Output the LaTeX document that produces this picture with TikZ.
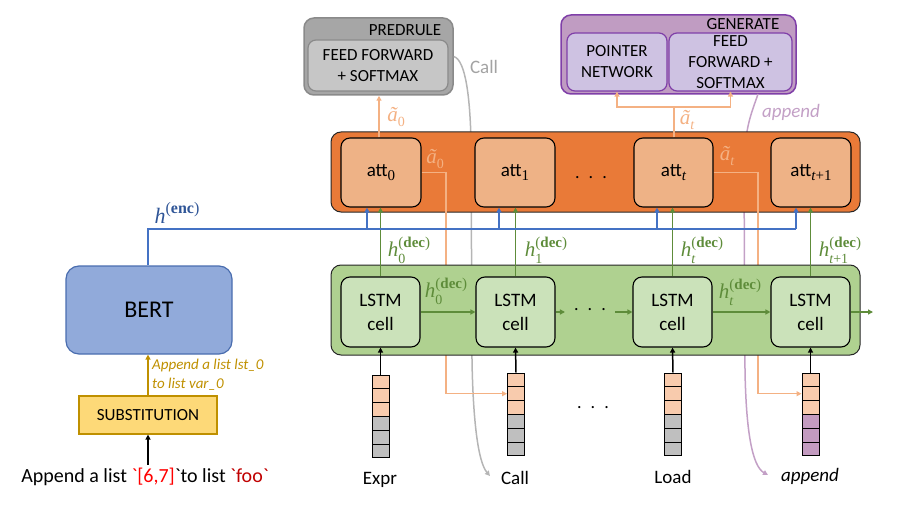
\documentclass[tikz,border=0pt]{standalone}
\usepackage{fontspec}
\setmainfont{Carlito}
\newfontfamily\mf{Liberation Serif}
\usetikzlibrary{arrows.meta,calc}
\definecolor{orangefill}{HTML}{E97A38}
\definecolor{attfill}{HTML}{EEB286}
\definecolor{peach}{HTML}{F4B183}
\definecolor{peachcell}{HTML}{F8CBAD}
\definecolor{greenfill}{HTML}{AFD190}
\definecolor{cellfill}{HTML}{CBE2BA}
\definecolor{greenline}{HTML}{5E8C3A}
\definecolor{bertfill}{HTML}{91AADA}
\definecolor{bertdraw}{HTML}{4A6DAF}
\definecolor{blueline}{HTML}{4472C4}
\definecolor{encblue}{HTML}{2F5597}
\definecolor{subfill}{HTML}{FDD978}
\definecolor{gold}{HTML}{BF9000}
\definecolor{predout}{HTML}{A6A6A6}
\definecolor{predin}{HTML}{C6C6C6}
\definecolor{preddraw}{HTML}{8A8A8A}
\definecolor{genout}{HTML}{C09CC2}
\definecolor{genin}{HTML}{CEC2E2}
\definecolor{gendraw}{HTML}{7F3FA8}
\definecolor{appcol}{HTML}{C3A0C6}
\definecolor{graycurve}{HTML}{B5B5B5}
\definecolor{graycell}{HTML}{BFBFBF}
\definecolor{purplecell}{HTML}{C39BC0}
\definecolor{darkred}{HTML}{C00000}
% h with sub- and superscript, set in text fonts
\newcommand{\hlab}[2]{{\mf\itshape h}\makebox[0pt][l]{\raisebox{-0.3em}{\fontsize{14}{14}\selectfont\mf #1}}\raisebox{0.45em}{\fontsize{15}{15}\selectfont\mf(\textbf{#2})}}
\newcommand{\atl}[1]{{\mf\itshape ã}\raisebox{-0.28em}{\fontsize{14}{14}\selectfont\mf #1}}
\newcommand{\att}[1]{att\raisebox{-0.25em}{\fontsize{15}{15}\selectfont\mf #1}}
\begin{document}
\begin{tikzpicture}[x=1pt,y=-1pt,
  tip/.style={-{Triangle[length=5pt,width=5pt]}},
  rowbox/.style={draw=black!85, line width=1pt, rounded corners=10pt, inner sep=0pt},
  attbox/.style={draw=black, line width=1.1pt, rounded corners=9pt, fill=attfill, minimum width=80pt, minimum height=69pt, inner sep=0pt, font=\fontsize{19}{20}\selectfont},
  cellbox/.style={draw=black, line width=1.1pt, rounded corners=9pt, fill=cellfill, minimum width=79pt, minimum height=70pt, inner sep=0pt, align=center, font=\fontsize{19}{24}\selectfont},
  vcell/.style={draw=black, line width=1pt, minimum width=17pt, minimum height=13.8pt, inner sep=0pt},
  boxtext/.style={font=\fontsize{17}{21}\selectfont, align=center},
  vlabel/.style={font=\fontsize{19}{22}\selectfont},
  hdec/.style={text=greenline, font=\fontsize{21}{22}\selectfont, inner sep=0pt},
  atil/.style={text=peach, font=\fontsize{21}{22}\selectfont, inner sep=0pt},
  greenarrow/.style={draw=greenline, line width=1.5pt, tip},
  bluearrow/.style={draw=blueline, line width=1.5pt, tip},
  peachline/.style={draw=peach, line width=1.5pt},
]
\path[use as bounding box] (0,0) rectangle (897,508);

% ---------- top output boxes ----------
\node[draw=preddraw, fill=predout, line width=1.5pt, rounded corners=10pt, minimum width=149pt, minimum height=77pt, inner sep=0pt] (predo) at (378.5,56.5) {};
\node[draw=preddraw, fill=predin, line width=1.2pt, rounded corners=8pt, minimum width=140pt, minimum height=51pt, inner sep=0pt, boxtext] (predi) at (378,65.5) {FEED FORWARD\\+ SOFTMAX};
\node[boxtext, inner sep=0pt] (predlbl) at (405,30.5) {PREDRULE};

\node[draw=gendraw, fill=genout, line width=1.5pt, rounded corners=10pt, minimum width=235pt, minimum height=79pt, inner sep=0pt] (geno) at (678.5,54.5) {};
\node[draw=gendraw, fill=genin, line width=1.2pt, rounded corners=8pt, minimum width=100pt, minimum height=58pt, inner sep=0pt, boxtext] (ptr) at (617,62) {POINTER\\NETWORK};
\node[draw=gendraw, fill=genin, line width=1.2pt, rounded corners=8pt, minimum width=123pt, minimum height=58pt, inner sep=0pt, boxtext] (genff) at (730.5,62) {FEED\\FORWARD +\\SOFTMAX};
\node[boxtext, inner sep=0pt] (genlbl) at (743,24.5) {GENERATE};

% ---------- token vectors ----------
\foreach \v/\x/\t/\lc in {0/380.5/375/graycell, 1/516/373/graycell, 2/673/373/graycell, 3/810.5/373/purplecell}{
  \foreach \k in {1,2,3}{
    \node[vcell, fill=peachcell] (v\v-\k) at (\x,{\t+(\k-0.5)*13.8}) {};
  }
  \foreach \k in {4,5,6}{
    \node[vcell, fill=\lc] (v\v-\k) at (\x,{\t+(\k-0.5)*13.8}) {};
  }
}
\node[vlabel] (lexpr) at (380,480) {Expr};
\node[vlabel] (lcall) at (515,478) {Call};
\node[vlabel] (lload) at (673,477) {Load};
\node[vlabel] (lapp) at (810,476) {\itshape append};
\node[font=\fontsize{18}{20}\selectfont] (vdots) at (593,408) {.\hspace{9pt}.\hspace{9pt}.};

% ---------- background curves ----------
\coordinate (callend) at (490,476);
\draw[draw=graycurve, line width=1.5pt, tip] (predo.east) .. controls (466,60) and (470,100) .. (471,140) -- (472,360) .. controls (473,420) and (478,462) .. (callend);
\node[text=graycurve!90!black, font=\fontsize{19}{22}\selectfont] (calllbl) at (484,67) {Call};

\coordinate (appstart) at (758,94);
\coordinate (appendend) at (768,475);
\draw[draw=appcol, line width=1.5pt, tip] (appstart) .. controls (752,112) and (744,128) .. (744,170) -- (745,370) .. controls (746,430) and (752,466) .. (appendend);
\node[text=appcol, font=\fontsize{19}{22}\selectfont\itshape] (applbl) at (791,112) {append};

% ---------- attention row ----------
\node[rowbox, fill=orangefill, minimum width=529pt, minimum height=80pt] (attrow) at (595.5,172) {};
\node[attbox] (att0) at (381,172.5) {\att{0}};
\node[attbox] (att1) at (515,172.5) {\att{1}};
\node[attbox, minimum width=79pt] (attt) at (673.5,172.5) {\att{\itshape t}};
\node[attbox] (attt1) at (811,172.5) {\att{\itshape t\upshape+1}};
\node[font=\fontsize{18}{20}\selectfont] (attdots) at (591,178) {.\hspace{9pt}.\hspace{9pt}.};

% peach connectors
\coordinate (pk0) at (446,393.7);
\coordinate (pkt) at (758,393.7);
\draw[peachline, tip] (att0.east) -| (pk0) -- (v1-2.west);
\draw[peachline, tip] (attt.east) -| (pkt) -- (v3-2.west);
\node[atil] (a0r) at (435,159) {\atl{0}};
\node[atil] (atr) at (727,156) {\atl{\itshape t}};

% upward a-tilde arrows
\draw[peachline, tip] (att0.north -| 379,0) -- (predo.south -| 379,0);
\node[atil] (a0u) at (396,117) {\atl{0}};
\coordinate (split) at (674,107);
\draw[peachline] (attt.north -| split) -- (split);
\draw[peachline, tip] (split) -| (ptr.south);
\draw[peachline, tip] (split) -| (genff.south);
\node[atil] (atu) at (687,120) {\atl{\itshape t}};

% ---------- LSTM row ----------
\node[rowbox, fill=greenfill, minimum width=529pt, minimum height=90pt] (lstmrow) at (595.5,310) {};
\node[cellbox] (cell0) at (380.5,312) {LSTM\\cell};
\node[cellbox] (cell1) at (515.5,312) {LSTM\\cell};
\node[cellbox] (cellt) at (672.5,312) {LSTM\\cell};
\node[cellbox] (cellt1) at (810.5,312) {LSTM\\cell};
\node[font=\fontsize{18}{20}\selectfont, inner xsep=9pt] (ldots) at (590,310) {.\hspace{9pt}.\hspace{9pt}.};

\draw[greenarrow] (cell0.east) -- (cell1.west);
\draw[greenarrow] (cell1.east) -- (cell1.east -| ldots.west);
\draw[greenarrow] (ldots.east |- cellt.west) -- (cellt.west);
\draw[greenarrow] (cellt.east) -- (cellt1.west);
\coordinate (outend) at (873,312);
\draw[greenarrow] (cellt1.east) -- (outend);
\node[hdec] (hh0) at (446,291) {\hlab{0}{dec}};
\node[hdec] (hht) at (740,292) {\hlab{\itshape t}{dec}};

% vertical green arrows
\draw[greenarrow] (cell0.north) -- (cell0.north |- att0.south);
\draw[greenarrow] (cell1.north) -- (cell1.north |- att1.south);
\draw[greenarrow] (cellt.north) -- (cellt.north |- attt.south);
\draw[greenarrow] (cellt1.north) -- (cellt1.north |- attt1.south);
\node[hdec] (hv0) at (409,250) {\hlab{0}{dec}};
\node[hdec] (hv1) at (546,250) {\hlab{1}{dec}};
\node[hdec] (hvt) at (702,250) {\hlab{\itshape t}{dec}};
\node[hdec] (hvt1) at (840,250) {\hlab{\itshape t\upshape+1}{dec}};

% token inputs
\draw[line width=1.5pt, tip] (v0-1.north) -- (cell0.south);
\draw[line width=1.5pt, tip] (v1-1.north) -- (cell1.south);
\draw[line width=1.5pt, tip] (v2-1.north) -- (cellt.south);
\draw[line width=1.5pt, tip] (v3-1.north) -- (cellt1.south);

% ---------- encoder ----------
\node[draw=bertdraw, fill=bertfill, line width=1.2pt, rounded corners=13pt, minimum width=166pt, minimum height=88pt, inner sep=0pt, font=\fontsize{24}{28}\selectfont] (bert) at (149,310) {BERT};
\node[draw=gold, fill=subfill, line width=1.2pt, minimum width=138pt, minimum height=38pt, inner sep=0pt, font=\fontsize{17}{20}\selectfont] (subst) at (148,415) {SUBSTITUTION};
\draw[draw=gold, line width=1.5pt, tip] (subst.north -| 148,0) -- (bert.south -| 148,0);
\node[anchor=west, text=gold, align=left, font=\fontsize{15}{19}\selectfont\itshape, inner sep=0pt] (sublbl) at (152,375) {Append a list lst\_0\\to list var\_0};
\node[font=\fontsize{20}{24}\selectfont] (inp) at (145,477) {Append a list {\color{red}\textasciigrave[6,7]}\textasciigrave to list {\color{darkred}\textasciigrave foo\textasciigrave}};
\draw[line width=1.5pt, tip] (inp.north -| subst.south) -- (subst.south);

% encoder bus
\coordinate (b0) at (367,229);
\coordinate (b1) at (499,229);
\coordinate (b2) at (657,229);
\coordinate (b3) at (796,229);
\draw[draw=blueline, line width=1.5pt] (bert.north -| 148,0) |- (b3);
\draw[bluearrow] (b0) -- (b0 |- att0.south);
\draw[bluearrow] (b1) -- (b1 |- att1.south);
\draw[bluearrow] (b2) -- (b2 |- attt.south);
\draw[bluearrow] (b3) -- (b3 |- attt1.south);
\node[text=encblue, font=\fontsize{22}{24}\selectfont, inner sep=0pt] (henc) at (177,213) {{\mf\itshape h}\raisebox{0.45em}{\fontsize{16}{16}\selectfont\mf(\textbf{enc})}};
\end{tikzpicture}
\end{document}
